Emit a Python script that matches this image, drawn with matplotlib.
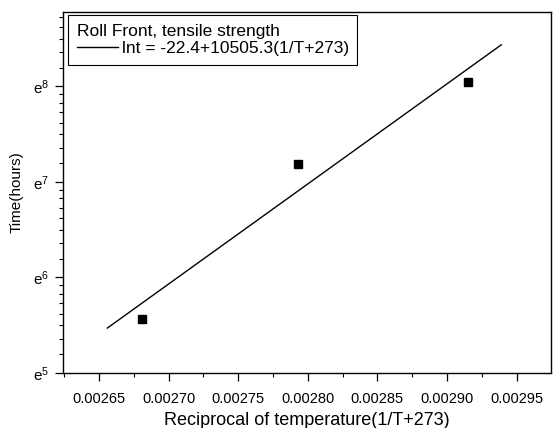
import numpy as np
import matplotlib
matplotlib.use("Agg")
import matplotlib.pyplot as plt

plt.rcParams['font.family'] = ['Liberation Sans', 'DejaVu Sans']
plt.rcParams['mathtext.fontset'] = 'custom'
plt.rcParams['mathtext.rm'] = 'Liberation Sans'

# measured points: reciprocal temperature vs time (hours, log base e axis)
recip_temp = [0.002681, 0.002793, 0.002915]
time_hours = [261, 1326, 3102]

# fitted line endpoints
fit_x = [0.002656, 0.002939]
fit_hours = [237.5, 4600]

x_ticks = [0.00265, 0.00270, 0.00275, 0.00280, 0.00285, 0.00290, 0.00295]
x_tick_labels = ['0.00265', '0.00270', '0.00275', '0.00280', '0.00285', '0.00290', '0.00295']
y_exps = [5, 6, 7, 8]

fig = plt.figure(figsize=(5.57, 4.28), dpi=100)
ax = fig.add_axes([0.113, 0.1285, 0.876, 0.8435])

ax.plot(fit_x, fit_hours, color='black', lw=1.0,
        label='lnt = -22.4+10505.3(1/T+273)')
ax.plot(recip_temp, time_hours, 's', color='black', ms=5.5, label='_nolegend_')

ax.set_yscale('log', base=np.e)
ax.set_xlim(0.0026241, 0.0029746)
ax.set_ylim(np.e ** 5, np.e ** 8.777)

ax.set_xticks(x_ticks, labels=x_tick_labels)
ax.set_xticks([t + 0.000025 for t in x_ticks[:-1]] + [x_ticks[0] - 0.000025], minor=True)
ax.set_yticks([np.e ** k for k in y_exps], labels=[rf'$\mathregular{{e^{{{k}}}}}$' for k in y_exps])
minor_y = []
for k in y_exps:
    minor_y += list(np.linspace(np.e ** k, np.e ** (k + 1), 9)[1:-1])
ax.set_yticks([v for v in minor_y if v < np.e ** 8.777], minor=True)
ax.yaxis.set_minor_formatter(plt.NullFormatter())

ax.tick_params(which='major', direction='out', length=6, width=0.9)
ax.tick_params(which='minor', direction='out', length=3, width=0.8)
ax.tick_params(axis='x', labelsize=10.5, pad=8)
ax.tick_params(axis='y', labelsize=11, pad=4)
for s in ax.spines.values():
    s.set_linewidth(1.0)

ax.set_xlabel('Reciprocal of temperature(1/T+273)', fontsize=13, labelpad=4)
ax.set_ylabel('Time(hours)', fontsize=11, labelpad=7)

leg = ax.legend(loc='upper left', bbox_to_anchor=(0.01, 0.992), borderaxespad=0,
                title='Roll Front, tensile strength', alignment='left',
                fontsize=12.5, title_fontsize=12.5, fancybox=False, framealpha=1,
                edgecolor='black', handlelength=2.4, handletextpad=0.2,
                borderpad=0.5, labelspacing=0.15)
leg.get_frame().set_linewidth(0.8)

fig.savefig('out.png', dpi=100)
